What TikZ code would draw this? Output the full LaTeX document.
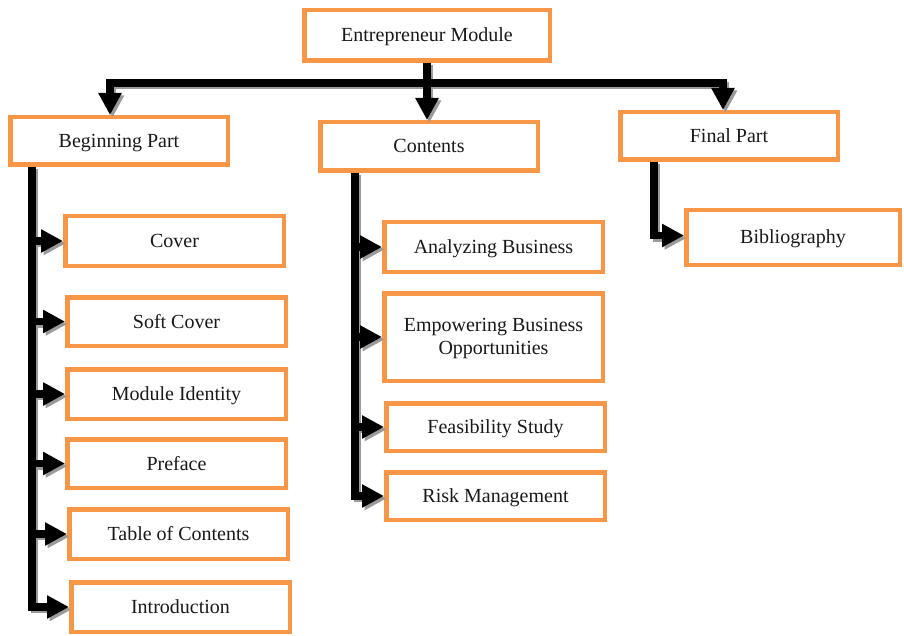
\documentclass[tikz,border=0pt]{standalone}
\usepackage{fontspec}
\setmainfont{Liberation Serif}
\usetikzlibrary{arrows.meta}
\definecolor{boxorange}{HTML}{F79646}
\definecolor{shadowgray}{HTML}{9A9A9A}
\newcommand{\drawconnectors}{%
  \draw[conn] (em.south) -- (em.south |- bl);
  \draw[conn] ([xshift=-3.75pt]bl) -- ([xshift=3.75pt]br);
  \draw[arr] (bl) -- (bl |- bp.north);
  \draw[arr] (em.south |- bl) -- (em.south |- ct.north);
  \draw[arr] (br) -- (br |- fp.north);
  \draw[arr] (lx |- bp.south) |- (intro.west);
  \foreach \t in {cover,soft,mid,pref,toc}
    \draw[arr] (lx |- \t.west) -- (\t.west);
  \draw[arr] (cx |- ct.south) |- (rm.west);
  \foreach \t in {ab,ebo,fs}
    \draw[arr] (cx |- \t.west) -- (\t.west);
  \draw[arr] (fx |- fp.south) |- ([yshift=2pt]bib.west);
}
\begin{document}
\begin{tikzpicture}[x=1pt,y=-1pt,
  box/.style={draw=boxorange, line width=4.5pt, fill=white, inner sep=2pt,
    align=center, font=\fontsize{20}{23}\selectfont, text=black!90, text depth=1pt},
  conn/.style={line width=7.5pt, line join=miter},
  arr/.style={conn, -{Triangle[length=22pt,width=22pt]}},
]
\useasboundingbox (0,0) rectangle (904,636);
% boxes
\node[box, minimum width=245.5pt, minimum height=50.5pt] (em) at (427,35.5) {Entrepreneur Module};
\node[box, minimum width=217.5pt, minimum height=47.5pt] (bp) at (119,141) {Beginning Part};
\node[box, minimum width=217.5pt, minimum height=48.5pt] (ct) at (429,146.5) {Contents};
\node[box, minimum width=217.5pt, minimum height=47.5pt] (fp) at (729,136) {Final Part};
\node[box, minimum width=218.5pt, minimum height=49.5pt] (cover) at (174.5,241) {Cover};
\node[box, minimum width=218.5pt, minimum height=48.5pt] (soft) at (176.5,321.5) {Soft Cover};
\node[box, minimum width=218.5pt, minimum height=49.5pt] (mid) at (176.5,394) {Module Identity};
\node[box, minimum width=218.5pt, minimum height=48.5pt] (pref) at (176.5,463.5) {Preface};
\node[box, minimum width=218.5pt, minimum height=49.5pt] (toc) at (178.5,534) {Table of Contents};
\node[box, minimum width=218.5pt, minimum height=49.5pt] (intro) at (180.5,607) {Introduction};
\node[box, minimum width=218.5pt, minimum height=49.5pt] (ab) at (493.5,247) {Analyzing Business};
\node[box, minimum width=218.5pt, minimum height=87.5pt] (ebo) at (493.5,337) {Empowering Business\\Opportunities};
\node[box, minimum width=218.5pt, minimum height=47.5pt] (fs) at (495.5,427) {Feasibility Study};
\node[box, minimum width=218.5pt, minimum height=47.5pt] (rm) at (495.5,496) {Risk Management};
\node[box, minimum width=213.5pt, minimum height=54.5pt] (bib) at (793,237.5) {Bibliography};
% helper coordinates
\coordinate (bl) at (110,83);
\coordinate (br) at (723,83);
\coordinate (lx) at (32,0);
\coordinate (cx) at (355,0);
\coordinate (fx) at (654,0);
% connectors: shadow then main
\begin{scope}[transform canvas={shift={(2.5pt,-2.5pt)}}, color=shadowgray]
  \drawconnectors
\end{scope}
\begin{scope}[color=black]
  \drawconnectors
\end{scope}
\end{tikzpicture}
\end{document}
